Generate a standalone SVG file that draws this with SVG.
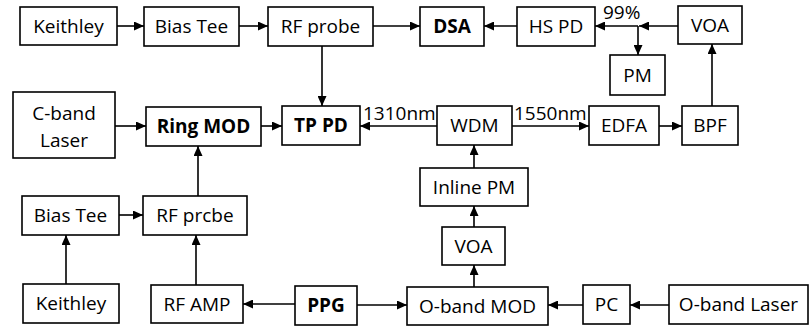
<svg xmlns="http://www.w3.org/2000/svg" width="809" height="326" viewBox="0 0 809 326">
<style>
rect{fill:#fff;stroke:#000;stroke-width:1.6}
text{font-family:"Open Sans","Noto Sans",sans-serif;font-size:19px;fill:#000;text-anchor:middle}
.b{font-weight:bold}
.l{text-anchor:start}
#connectors line{stroke:#000;stroke-width:1.6;fill:none}
.ar{marker-end:url(#a)}
</style>
<defs>
<marker id="a" markerWidth="10" markerHeight="9" refX="10" refY="4.5" orient="auto" markerUnits="userSpaceOnUse"><path d="M0,0 L10,4.5 L0,9 z" fill="#000"/></marker>
</defs>
<rect x="0" y="0" width="809" height="326" style="stroke:none"/>
<g id="connectors">
<line class="ar" x1="117" y1="26" x2="144" y2="26"/>
<line class="ar" x1="239" y1="26" x2="268" y2="26"/>
<line class="ar" x1="373" y1="26" x2="420" y2="26"/>
<line class="ar" x1="517" y1="26" x2="484" y2="26"/>
<line class="ar" x1="678" y1="26" x2="639" y2="26"/>
<line class="ar" x1="638" y1="26" x2="595" y2="26"/>
<line class="ar" x1="638" y1="26" x2="638" y2="55"/>
<line class="ar" x1="712" y1="106" x2="712" y2="44"/>
<line class="ar" x1="322" y1="46" x2="322" y2="106"/>
<line class="ar" x1="115" y1="126" x2="146" y2="126"/>
<line class="ar" x1="261" y1="126" x2="282" y2="126"/>
<line class="ar" x1="437" y1="126" x2="360" y2="126"/>
<line class="ar" x1="512" y1="126" x2="589" y2="126"/>
<line class="ar" x1="659" y1="126" x2="682" y2="126"/>
<line class="ar" x1="474" y1="168" x2="474" y2="145"/>
<line class="ar" x1="474" y1="227" x2="474" y2="206"/>
<line class="ar" x1="474" y1="287" x2="474" y2="265"/>
<line class="ar" x1="198" y1="196" x2="198" y2="146"/>
<line class="ar" x1="119" y1="215" x2="143" y2="215"/>
<line class="ar" x1="66" y1="284" x2="66" y2="235"/>
<line class="ar" x1="196" y1="285" x2="196" y2="235"/>
<line class="ar" x1="295" y1="304" x2="243" y2="304"/>
<line class="ar" x1="357" y1="305" x2="407" y2="305"/>
<line class="ar" x1="583" y1="305" x2="548" y2="305"/>
<line class="ar" x1="669" y1="305" x2="630" y2="305"/>
<text class="l" x="603" y="19">99%</text>
<text class="l" x="363" y="120">1310nm</text>
<text class="l" x="514" y="120">1550nm</text>
</g>
<g id="keithley1"><rect x="20" y="7" width="97" height="38"/><text x="68.5" y="33">Keithley</text></g>
<g id="biastee1"><rect x="144" y="7" width="95" height="39"/><text x="191.5" y="33">Bias Tee</text></g>
<g id="rfprobe1"><rect x="268" y="7" width="105" height="39"/><text x="320.5" y="33">RF probe</text></g>
<g id="dsa"><rect x="420" y="7" width="64" height="39"/><text class="b" x="452" y="33">DSA</text></g>
<g id="hspd"><rect x="517" y="7" width="78" height="39"/><text x="556" y="33">HS PD</text></g>
<g id="voa1"><rect x="678" y="6" width="64" height="38"/><text x="710" y="32">VOA</text></g>
<g id="pm"><rect x="610" y="55" width="55" height="40"/><text x="637.5" y="82">PM</text></g>
<g id="cband"><rect x="13" y="92" width="102" height="66"/><text x="64" y="120">C-band</text><text x="64" y="147">Laser</text></g>
<g id="ringmod"><rect x="146" y="107" width="115" height="39"/><text class="b" x="203.5" y="133">Ring MOD</text></g>
<g id="tppd"><rect x="282" y="106" width="78" height="39"/><text class="b" x="321" y="132">TP PD</text></g>
<g id="wdm"><rect x="437" y="106" width="75" height="39"/><text x="474.5" y="132">WDM</text></g>
<g id="edfa"><rect x="589" y="106" width="70" height="39"/><text x="624" y="132">EDFA</text></g>
<g id="bpf"><rect x="682" y="106" width="56" height="39"/><text x="710" y="132">BPF</text></g>
<g id="inlinepm"><rect x="420" y="168" width="108" height="38"/><text x="474" y="194">Inline PM</text></g>
<g id="biastee2"><rect x="22" y="196" width="97" height="39"/><text x="70.5" y="222">Bias Tee</text></g>
<g id="rfprobe2"><rect x="143" y="196" width="104" height="39"/><text x="195" y="222">RF prcbe</text></g>
<g id="voa2"><rect x="442" y="227" width="63" height="38"/><text x="473.5" y="253">VOA</text></g>
<g id="keithley2"><rect x="23" y="284" width="96" height="39"/><text x="71" y="310">Keithley</text></g>
<g id="rfamp"><rect x="151" y="285" width="92" height="38"/><text x="197" y="311">RF AMP</text></g>
<g id="ppg"><rect x="295" y="286" width="62" height="39"/><text class="b" x="326" y="312">PPG</text></g>
<g id="obandmod"><rect x="407" y="287" width="141" height="38"/><text x="477.5" y="313">O-band MOD</text></g>
<g id="pc"><rect x="583" y="285" width="47" height="39"/><text x="606.5" y="311">PC</text></g>
<g id="obandlaser"><rect x="669" y="285" width="139" height="39"/><text x="738.5" y="311">O-band Laser</text></g>
</svg>
